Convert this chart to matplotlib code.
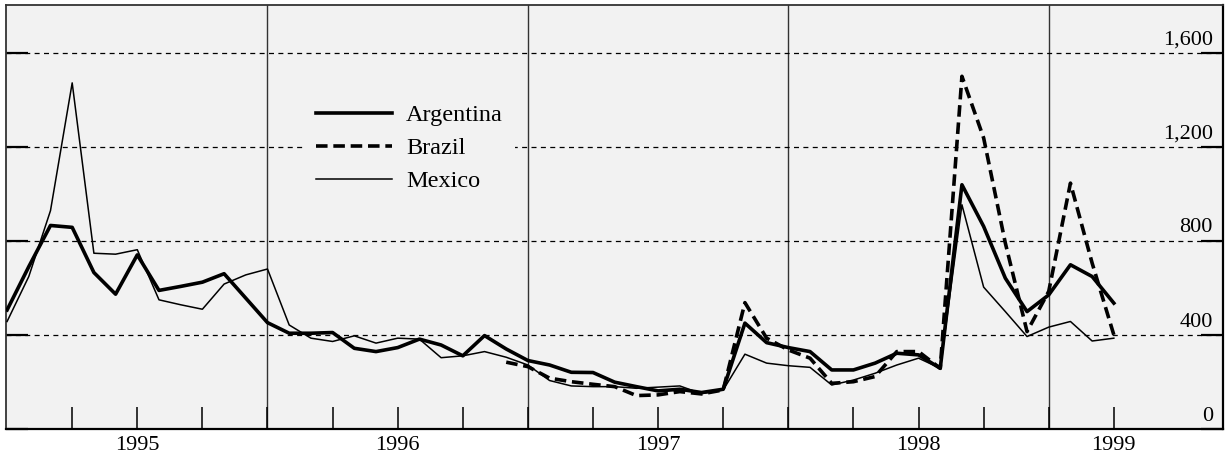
import numpy as np
import matplotlib
matplotlib.use('Agg')
import matplotlib.pyplot as plt

plt.rcParams['font.family'] = ['Liberation Serif', 'DejaVu Serif']

#### data (monthly, month 0 = Jan 1995)
argentina = [506, 690, 865, 857, 665, 573, 740, 589, 606, 624, 660, 556,
             452, 407, 407, 410, 343, 329, 346, 382, 357, 311, 397, 340,
             291, 272, 241, 240, 199, 180, 162, 169, 155, 169, 450, 367,
             346, 329, 251, 251, 280, 322, 315, 258, 1038, 861, 641, 499,
             570, 698, 648, 535]
mexico = [457, 648, 928, 1471, 747, 743, 762, 549, 528, 509, 616, 655,
          680, 442, 386, 372, 396, 365, 386, 382, 303, 311, 329, 305,
          272, 206, 183, 180, 180, 173, 178, 183, 150, 166, 318, 280,
          269, 262, 187, 208, 237, 272, 301, 258, 953, 603, 499, 393,
          433, 457, 374, 386]
brazil_start = 23
brazil = [284, 265, 216, 201, 190, 180, 142, 145, 159, 149, 166, 537,
          386, 336, 301, 194, 201, 223, 329, 329, 258, 1499, 1237, 790,
          414, 585, 1045, 705, 400]

years = ['1995', '1996', '1997', '1998', '1999']
year_pos = [6, 18, 30, 42, 51]
year_breaks = [12, 24, 36, 48]
yticks = [0, 400, 800, 1200, 1600]
ylabels = ['0', '400', '800', '1,200', '1,600']

months = np.arange(len(argentina))
months_br = np.arange(brazil_start, brazil_start + len(brazil))

#### figure
W, H = 1231, 457
fig = plt.figure(figsize=(W / 100, H / 100), dpi=100)
fig.patch.set_facecolor('white')
ax = fig.add_axes([6 / W, (H - 429) / H, (1223 - 6) / W, (429 - 5) / H])
ax.set_facecolor('#f2f2f2')

ax.plot(months, argentina, color='black', lw=2.6, label='Argentina', zorder=4)
ax.plot(months_br, brazil, color='black', lw=2.6, linestyle=(0, (3.2, 1.6)),
        label='Brazil', zorder=4)
ax.plot(months, mexico, color='black', lw=1.1, label='Mexico', zorder=3)

for yb in year_breaks:
    ax.axvline(yb, color='#333333', lw=1.0, zorder=1)

ax.set_xlim(-0.05, 56.03)
ax.set_ylim(0, 1802)

ax.set_yticks(yticks)
ax.grid(axis='y', color='black', lw=0.9, linestyle=(0, (4, 3.5)), zorder=0)
ax.tick_params(axis='y', left=True, right=True, direction='in', length=16,
               width=1.6, labelleft=False, labelright=False)
for v, lab in zip(yticks, ylabels):
    ax.annotate(lab, xy=((1213 - 6) / 1217, v), xycoords=('axes fraction', 'data'),
                xytext=(0, 6), textcoords='offset points', ha='right', va='baseline',
                fontsize=16)

ax.xaxis.remove_overlapping_locs = False
ax.set_xticks(np.arange(3, 52, 3))
ax.set_xticklabels([])
ax.tick_params(axis='x', which='major', direction='in', length=16, width=1.1)
ax.set_xticks(year_pos, labels=years, minor=True)
ax.tick_params(axis='x', which='minor', length=0, pad=5, labelsize=16)

for side in ['left', 'top']:
    ax.spines[side].set_color('#333333')
    ax.spines[side].set_linewidth(1.3)
for side in ['right', 'bottom']:
    ax.spines[side].set_color('black')
    ax.spines[side].set_linewidth(1.6)

leg = ax.legend(loc='upper left', bbox_to_anchor=((304 - 6) / 1217, (429 - 92) / 424),
                borderaxespad=0, borderpad=0.5, handlelength=3.1, handletextpad=0.6,
                labelspacing=0.45, fontsize=17.5, frameon=True, fancybox=False)
leg.get_frame().set_facecolor('#f2f2f2')
leg.get_frame().set_edgecolor('none')
leg.get_frame().set_alpha(1)

fig.savefig('out.png', dpi=100, facecolor='white')
